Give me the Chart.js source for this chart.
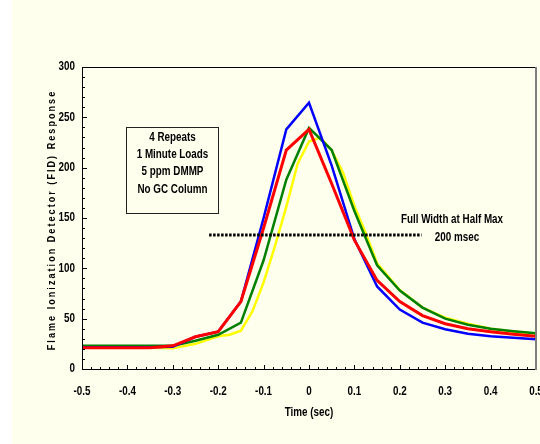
<!DOCTYPE html>
<html>
<head>
<meta charset="utf-8">
<script src="https://cdn.jsdelivr.net/npm/chart.js@4/dist/chart.umd.min.js"></script>
<style>
  html, body { margin: 0; padding: 0; background: #fff; }
</style>
</head>
<body>
<canvas id="grafico" width="540" height="444"></canvas>
<script>
// Dados
const tempos = [-0.5, -0.45, -0.4, -0.35, -0.3, -0.25, -0.2, -0.15, -0.1, -0.05, 0, 0.05, 0.1, 0.15, 0.2, 0.25, 0.3, 0.35, 0.4, 0.45, 0.5];
const azul = [21.5, 21.5, 21.5, 21.5, 22, 32, 37, 67, 150, 238, 264.5, 202, 129, 82, 59, 46, 39.5, 35, 32.5, 31, 29.5];
const vermelho = [21, 21, 21, 21, 23, 32, 37, 67, 140, 217.5, 238, 184, 128, 88, 67, 53, 45, 40, 37, 34.5, 32.5];
const verde = [23, 23, 23, 23, 23, 28, 34, 46, 108, 188, 239.5, 217.5, 157, 103, 78, 61, 50, 44, 40, 37.5, 35.5];

const temposAmarelo = [-0.5, -0.45, -0.4, -0.35, -0.3, -0.25, -0.2, -0.175, -0.15, -0.125, -0.1, -0.075, -0.05, -0.025, 0, 0.025, 0.05, 0.075, 0.1, 0.125, 0.15, 0.2, 0.25, 0.3, 0.35, 0.4, 0.45, 0.5];
const amarelo = [21, 21, 21, 21, 20.5, 25, 32.5, 34, 38, 57, 86, 122, 161, 204, 226, 230, 217, 195, 162, 135, 105, 78.5, 61, 51, 45, 40, 37, 35];

// linha pontilhada de meia altura
const meiaAlturaX = [-0.22, 0.248];
const meiaAlturaY = [133, 133];

const rotuloY = 'Flame Ionization Detector (FID) Response';
const rotuloX = 'Time (sec)';
const caixaTexto = ['4 Repeats', '1 Minute Loads', '5 ppm DMMP', 'No GC Column'];
const anotacao = ['Full Width at Half Max', '200 msec'];

const fonteFamilia = '"Liberation Sans", Arial, sans-serif';
const estreito = 0.82; // imita Arial Narrow

function pares(xs, ys) {
  return xs.map((x, i) => ({ x: x, y: ys[i] }));
}

function textoEstreito(ctx, texto, x, y, alinhamento) {
  ctx.save();
  ctx.translate(x, y);
  ctx.scale(estreito, 1);
  ctx.textAlign = alinhamento || 'center';
  ctx.fillText(texto, 0, 0);
  ctx.restore();
}

function rotulo(v) {
  return String(Number(v.toFixed(1)));
}

const moldura = {
  id: 'moldura',
  beforeDraw(chart) {
    const ctx = chart.ctx;
    ctx.save();
    ctx.fillStyle = '#ffffff';
    ctx.fillRect(0, 0, chart.width, chart.height);
    ctx.fillStyle = '#FFFFEE';
    ctx.fillRect(12, 0, chart.width - 12, chart.height);
    ctx.restore();
  },
  afterDraw(chart) {
    const ctx = chart.ctx;
    const a = chart.chartArea;
    const sx = chart.scales.x;
    const sy = chart.scales.y;
    ctx.save();

    // marcas para dentro
    ctx.strokeStyle = '#000';
    ctx.lineWidth = 1;
    ctx.beginPath();
    for (let v = 0; v <= 300; v += 10) {
      const y = Math.round(sy.getPixelForValue(v)) + 0.5;
      const len = v % 50 === 0 ? 5 : 3;
      ctx.moveTo(a.left, y);
      ctx.lineTo(a.left + len, y);
    }
    for (let i = -25; i <= 25; i++) {
      const x = Math.round(sx.getPixelForValue(i * 0.02)) + 0.5;
      const len = i % 5 === 0 ? 4 : 2;
      ctx.moveTo(x, a.bottom);
      ctx.lineTo(x, a.bottom - len);
    }
    ctx.stroke();

    // moldura
    ctx.beginPath();
    ctx.moveTo(a.right, a.top + 0.5);
    ctx.lineTo(a.left + 0.5, a.top + 0.5);
    ctx.lineTo(a.left + 0.5, a.bottom + 0.5);
    ctx.lineTo(a.right, a.bottom + 0.5);
    ctx.stroke();
    ctx.strokeStyle = '#808080';
    ctx.lineWidth = 2;
    ctx.beginPath();
    ctx.moveTo(a.right, a.top);
    ctx.lineTo(a.right, a.bottom + 1);
    ctx.stroke();

    ctx.fillStyle = '#000';
    ctx.font = 'bold 12px ' + fonteFamilia;
    ctx.textBaseline = 'middle';

    // rótulos dos ticks, vindos das escalas
    sy.ticks.forEach(t => textoEstreito(ctx, rotulo(t.value), 75, sy.getPixelForValue(t.value), 'right'));
    sx.ticks.forEach(t => textoEstreito(ctx, rotulo(t.value), sx.getPixelForValue(t.value), 392, 'center'));
    textoEstreito(ctx, rotuloX, (a.left + a.right) / 2, 413, 'center');

    // caixa de texto
    ctx.strokeStyle = '#222';
    ctx.lineWidth = 1;
    ctx.strokeRect(126.5, 127.5, 92, 86);
    const linhasY = [138, 155, 172, 190];
    caixaTexto.forEach((t, i) => textoEstreito(ctx, t, 172.5, linhasY[i], 'center'));

    textoEstreito(ctx, anotacao[0], 452, 219.5, 'center');
    textoEstreito(ctx, anotacao[1], 457, 237.5, 'center');

    // título do eixo y
    ctx.save();
    ctx.translate(52, 220);
    ctx.rotate(-Math.PI / 2);
    ctx.font = 'bold 11px ' + fonteFamilia;
    ctx.scale(estreito, 1);
    ctx.letterSpacing = '2.5px';
    ctx.textAlign = 'center';
    ctx.fillText(rotuloY, 0, 0);
    ctx.restore();

    ctx.restore();
  }
};

new Chart(document.getElementById('grafico').getContext('2d'), {
  type: 'line',
  data: {
    datasets: [
      {
        label: 'meia altura',
        data: pares(meiaAlturaX, meiaAlturaY),
        borderColor: '#000',
        borderWidth: 3,
        borderDash: [2.5, 1.5],
        pointRadius: 0
      },
      {
        label: 'vermelho',
        data: pares(tempos, vermelho),
        borderColor: '#FF0000',
        borderWidth: 3,
        pointRadius: 0
      },
      {
        label: 'azul',
        data: pares(tempos, azul),
        borderColor: '#0000FF',
        borderWidth: 2.5,
        pointRadius: 0
      },
      {
        label: 'verde',
        data: pares(tempos, verde),
        borderColor: '#008000',
        borderWidth: 2.5,
        pointRadius: 0
      },
      {
        label: 'amarelo',
        data: pares(temposAmarelo, amarelo),
        borderColor: '#FFFF00',
        borderWidth: 2.5,
        pointRadius: 0
      }
    ]
  },
  options: {
    responsive: false,
    animation: false,
    devicePixelRatio: 1,
    layout: { padding: { top: 67, right: 4, left: 0, bottom: 0 } },
    elements: { line: { tension: 0 } },
    plugins: {
      legend: { display: false },
      tooltip: { enabled: false }
    },
    scales: {
      x: {
        type: 'linear',
        min: -0.5,
        max: 0.5,
        grid: { display: false, drawTicks: false },
        border: { display: false },
        ticks: { stepSize: 0.1, display: false },
        afterFit(s) {
          s.height = 75;
          s.paddingLeft = 0;
          s.paddingRight = 0;
        }
      },
      y: {
        min: 0,
        max: 300,
        grid: { display: false, drawTicks: false },
        border: { display: false },
        ticks: { stepSize: 50, display: false },
        afterFit(s) {
          s.width = 82;
          s.paddingTop = 0;
          s.paddingBottom = 0;
        }
      }
    }
  },
  plugins: [moldura]
});
</script>
</body>
</html>
